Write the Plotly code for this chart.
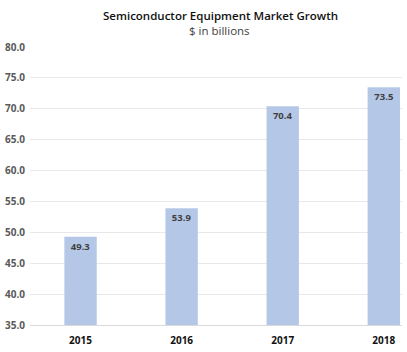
import plotly.graph_objects as go

years = ["2015", "2016", "2017", "2018"]
values = [49.3, 53.9, 70.4, 73.5]
labels = ["49.3", "53.9", "70.4", "73.5"]
yticks = [35, 40, 45, 50, 55, 60, 65, 70, 75, 80]
yticktext = ["35.0", "40.0", "45.0", "50.0", "55.0", "60.0", "65.0", "70.0", "75.0", "80.0"]

fig = go.Figure(go.Bar(
    x=years, y=values, text=labels,
    marker=dict(color="#b4c7e7", line=dict(width=0)),
    textposition="inside", insidetextanchor="end",
    textfont=dict(family="Open Sans", size=9.5, color="#404040", weight="bold"),
    cliponaxis=False,
))

pw = 407 - 30 - 5
ph = 352 - 47 - 25

fig.update_layout(
    width=407, height=352,
    margin=dict(l=30, r=5, t=47, b=25),
    paper_bgcolor="white", plot_bgcolor="white",
    bargap=0.68,
    showlegend=False,
    annotations=[
        dict(text="Semiconductor Equipment Market Growth", showarrow=False,
             x=(220 - 30) / pw, y=1 + (47 - 15) / ph, xref="paper", yref="paper",
             xanchor="center", yanchor="middle",
             font=dict(family="Open Sans", size=11.5, color="#111111", weight=600)),
        dict(text="$ in billions", showarrow=False,
             x=(219 - 30) / pw, y=1 + (47 - 30) / ph, xref="paper", yref="paper",
             xanchor="center", yanchor="middle",
             font=dict(family="Open Sans", size=11.5, color="#404040")),
    ],
)

fig.update_xaxes(
    type="category", range=[-0.5, 3.18],
    showgrid=False, showline=True, linecolor="#d9d9d9", linewidth=1,
    ticks="", tickfont=dict(family="Open Sans", size=10, color="#111111", weight="bold"),
    ticklabelstandoff=6,
)
fig.update_yaxes(
    range=[35, 80], tickvals=yticks, ticktext=yticktext,
    showgrid=True, gridcolor="#e8e8e8", gridwidth=1, zeroline=False,
    ticks="", tickfont=dict(family="Open Sans", size=10, color="#595959", weight="bold"),
    ticklabelstandoff=4,
)

fig.write_html("out.html")
